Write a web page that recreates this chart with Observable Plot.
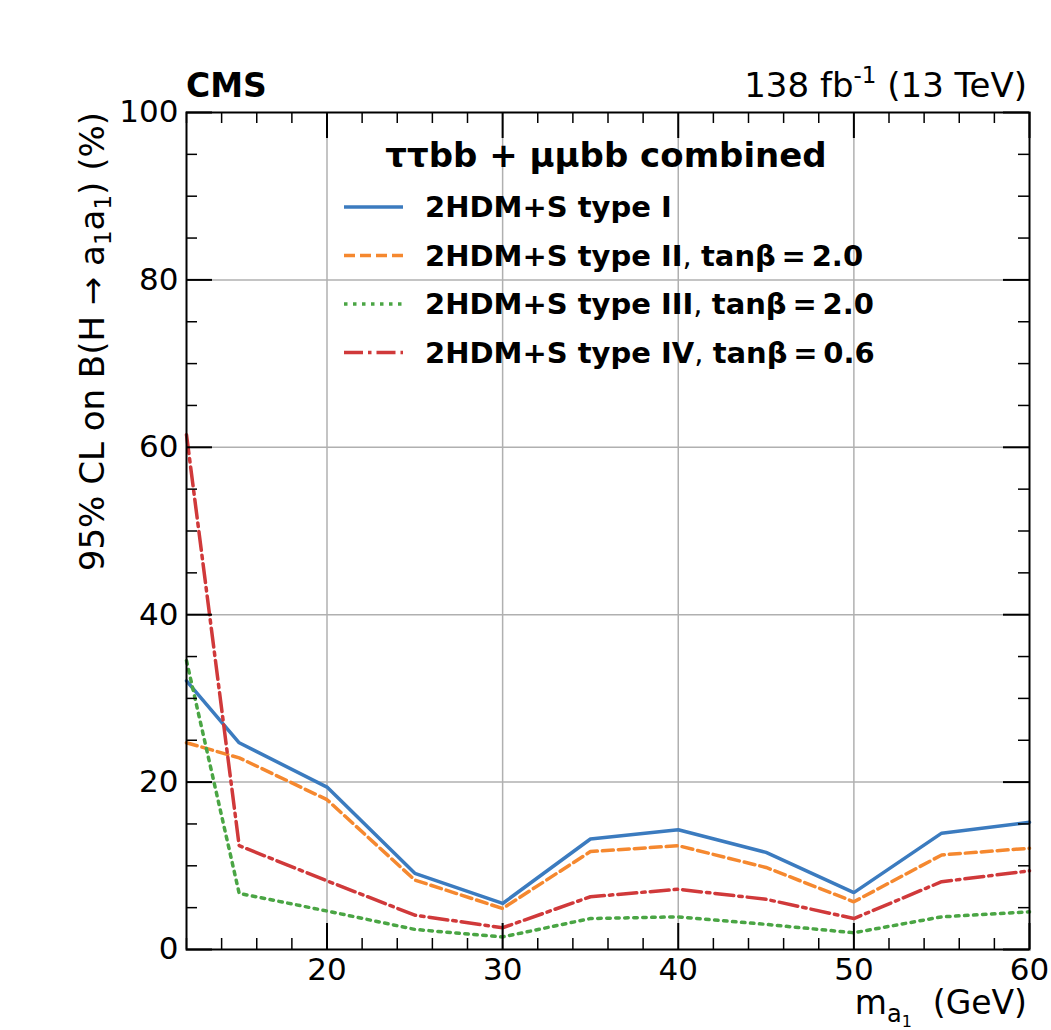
<!DOCTYPE html>
<html>
<head>
<meta charset="utf-8">
<script src="https://cdn.jsdelivr.net/npm/d3@7"></script>
<script src="https://cdn.jsdelivr.net/npm/@observablehq/plot@0.6"></script>
<style>
  html, body { margin: 0; padding: 0; background: white; }
  #chart { width: 1051px; height: 1030px; }
  svg { font-family: "DejaVu Sans", sans-serif; }
</style>
</head>
<body>
<div id="chart"></div>
<script>
// ---- data ----
const mass = [12, 15, 20, 25, 30, 35, 40, 45, 50, 55, 60];
const typeI   = [32.1, 24.7, 19.4, 9.1, 5.5, 13.2, 14.3, 11.6, 6.8, 13.9, 15.2];
const typeII  = [24.7, 22.9, 17.9, 8.3, 4.9, 11.7, 12.4, 9.8, 5.7, 11.3, 12.1];
const typeIII = [34.5, 6.7, 4.6, 2.4, 1.5, 3.7, 3.9, 3.0, 2.0, 3.9, 4.5];
const typeIV  = [61.5, 12.4, 8.2, 4.1, 2.6, 6.3, 7.2, 6.0, 3.7, 8.1, 9.4];

const seriesModels = ["2HDM+S type I", "2HDM+S type II", "2HDM+S type III", "2HDM+S type IV"];
const seriesTanb = [null, "2.0", "2.0", "0.6"];
const seriesValues = [typeI, typeII, typeIII, typeIV];
const seriesColors = ["#3b7bbf", "#f5882f", "#4aa544", "#d0393a"];
const seriesDash = [null, "11,5", "3.5,5.5", "19,5,3.5,5"];

const xMajor = [20, 30, 40, 50, 60];
const yMajor = [0, 20, 40, 60, 80, 100];
const xGrid = [20, 30, 40, 50];
const yGrid = [20, 40, 60, 80];
const xMinor = d3.range(12, 61, 2).filter(v => v % 10 !== 0);
const yMinor = d3.range(0, 101, 5).filter(v => v % 20 !== 0);

// ---- layout ----
const W = 1051, H = 1030;
const mL = 186, mR = 22, mT = 112, mB = 81;
const fh = H - mT - mB, fw = W - mL - mR;
const majLen = 26, minLen = 11;
const LW = 3.5;

const rows = [];
seriesValues.forEach((vals, i) => vals.forEach((v, j) => rows.push({series: seriesModels[i], idx: i, x: mass[j], y: v})));

const lineMarks = seriesModels.map((name, i) =>
  Plot.line(rows.filter(r => r.idx === i), {
    x: "x", y: "y", stroke: seriesColors[i], strokeWidth: LW,
    strokeDasharray: seriesDash[i] || undefined, strokeLinejoin: "miter"
  })
);

const tickStyle = (w) => ({stroke: "black", strokeWidth: w});

const chart = Plot.plot({
  width: W, height: H,
  marginLeft: mL, marginRight: mR, marginTop: mT, marginBottom: mB,
  style: {fontFamily: "DejaVu Sans", fontSize: "31px", color: "black", background: "white", overflow: "visible"},
  x: {domain: [12, 60]},
  y: {domain: [0, 100]},
  marks: [
    Plot.gridX({ticks: xGrid, stroke: "#b0b0b0", strokeOpacity: 1, strokeWidth: 1.5}),
    Plot.gridY({ticks: yGrid, stroke: "#b0b0b0", strokeOpacity: 1, strokeWidth: 1.5}),
    ...lineMarks,
    // inward ticks: bottom / top
    Plot.tickX(xMinor, {x: d => d, insetTop: fh - minLen, ...tickStyle(1.5)}),
    Plot.tickX(xMinor, {x: d => d, insetBottom: fh - minLen, ...tickStyle(1.5)}),
    Plot.tickX(xMajor, {x: d => d, insetTop: fh - majLen, ...tickStyle(2)}),
    Plot.tickX(xMajor, {x: d => d, insetBottom: fh - majLen, ...tickStyle(2)}),
    // inward ticks: left / right
    Plot.tickY(yMinor, {y: d => d, insetRight: fw - minLen, ...tickStyle(1.5)}),
    Plot.tickY(yMinor, {y: d => d, insetLeft: fw - minLen, ...tickStyle(1.5)}),
    Plot.tickY(yMajor, {y: d => d, insetRight: fw - majLen, ...tickStyle(2)}),
    Plot.tickY(yMajor, {y: d => d, insetLeft: fw - majLen, ...tickStyle(2)}),
    Plot.frame({stroke: "black", strokeWidth: 2}),
    Plot.axisX({ticks: xMajor, tickSize: 0, tickPadding: 8, label: null, fontSize: 31}),
    Plot.axisY({ticks: yMajor, tickSize: 0, tickPadding: 8, label: null, fontSize: 31})
  ]
});

document.getElementById("chart").appendChild(chart);

// ---- annotations (text) ----
const svg = d3.select(chart);
const ff = "DejaVu Sans";

svg.append("text").attr("x", mL).attr("y", 97).attr("text-anchor", "start")
  .attr("font-family", ff).attr("font-size", 33).attr("font-weight", "bold")
  .text("CMS");

const lumi = svg.append("text").attr("x", W - mR - 2).attr("y", 97)
  .attr("text-anchor", "end").attr("font-family", ff).attr("font-size", 34);
lumi.append("tspan").text("138 fb");
lumi.append("tspan").attr("dy", -14).attr("font-size", 23).text("-1");
lumi.append("tspan").attr("dy", 14).text(" (13 TeV)");

// y label
const yl = svg.append("text")
  .attr("transform", `translate(104,${mT}) rotate(-90)`)
  .attr("text-anchor", "end").attr("font-family", ff).attr("font-size", 34);
yl.append("tspan").text("95% CL on B(H → a");
yl.append("tspan").attr("dy", 7).attr("font-size", 23).text("1");
yl.append("tspan").attr("dy", -7).text("a");
yl.append("tspan").attr("dy", 7).attr("font-size", 23).text("1");
yl.append("tspan").attr("dy", -7).text(") (%)");

// x label
const xl = svg.append("text").attr("x", W - mR - 2).attr("y", 1014)
  .attr("text-anchor", "end").attr("font-family", ff).attr("font-size", 33);
xl.append("tspan").text("m");
xl.append("tspan").attr("dy", 8).attr("font-size", 24).text("a");
xl.append("tspan").attr("dy", 5).attr("font-size", 16).text("1");
xl.append("tspan").attr("dy", -13).text("  (GeV)");

// legend
const lg = svg.append("g").attr("font-family", ff);
lg.append("text").attr("x", 606).attr("y", 167).attr("text-anchor", "middle")
  .attr("font-size", 34).attr("font-weight", "bold").text("ττbb + μμbb combined");
seriesModels.forEach((name, i) => {
  const cy = 207 + i * 48.5;
  lg.append("line").attr("x1", 344).attr("x2", 403).attr("y1", cy).attr("y2", cy)
    .attr("stroke", seriesColors[i]).attr("stroke-width", LW)
    .attr("stroke-dasharray", seriesDash[i] || null);
  const t = lg.append("text").attr("x", 425).attr("y", cy + 10).attr("text-anchor", "start")
    .attr("font-size", 29);
  t.append("tspan").attr("font-weight", "bold").text(name);
  if (seriesTanb[i]) {
    t.append("tspan").text(", ");
    t.append("tspan").attr("font-weight", "bold").text("tanβ\u2009=\u2009" + seriesTanb[i]);
  }
});
</script>
</body>
</html>
